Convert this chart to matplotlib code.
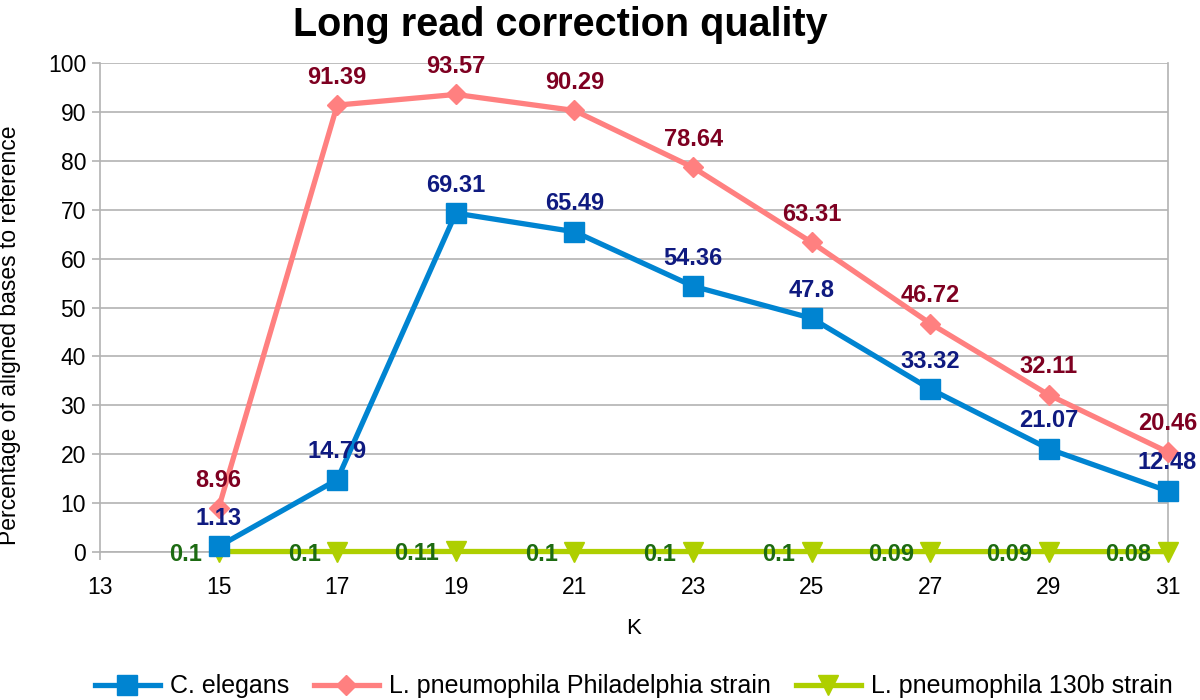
import numpy as np
import matplotlib.pyplot as plt

k = [15, 17, 19, 21, 23, 25, 27, 29, 31]
elegans = [1.13, 14.79, 69.31, 65.49, 54.36, 47.8, 33.32, 21.07, 12.48]
phila = [8.96, 91.39, 93.57, 90.29, 78.64, 63.31, 46.72, 32.11, 20.46]
strain130b = [0.1, 0.1, 0.11, 0.1, 0.1, 0.1, 0.09, 0.09, 0.08]

plt.rcParams['font.family'] = ['Liberation Sans', 'DejaVu Sans']

fig = plt.figure(figsize=(12, 7), dpi=100)
ax = fig.add_axes([0.0833, 0.2114, 0.8897, 0.6986])

ax.plot(k, strain130b, 'v-', color='#aecf00', lw=3.8, markersize=15, label='L. pneumophila 130b strain',
        zorder=3, clip_on=False)
ax.plot(k, phila, 'D-', color='#ff8080', lw=3.8, markersize=10, label='L. pneumophila Philadelphia strain',
        zorder=4, clip_on=False)
ax.plot(k, elegans, 's-', color='#0084d1', lw=3.8, markersize=15, label='C. elegans',
        zorder=5, clip_on=False)

for x, y in zip(k, phila):
    ax.annotate(str(y), (x, y), xytext=(0, 15.5), textcoords='offset points', ha='center', va='baseline',
                color='#7e0021', fontsize=17, fontweight='bold', zorder=6, annotation_clip=False)
for x, y in zip(k, elegans):
    ax.annotate(str(y), (x, y), xytext=(0, 15.5), textcoords='offset points', ha='center', va='baseline',
                color='#0f1a80', fontsize=17, fontweight='bold', zorder=6, annotation_clip=False)
for x, y in zip(k, strain130b):
    ax.annotate(str(y), (x, y), xytext=(-12, 0), textcoords='offset points', ha='right', va='center_baseline',
                color='#1d6b12', fontsize=17, fontweight='bold', zorder=6, annotation_clip=False)

ax.set_xlim(13, 31)
ax.set_ylim(0, 100)
ax.set_xticks(np.arange(13, 32, 2))
ax.set_yticks(np.arange(0, 101, 10))
ax.tick_params(axis='both', labelsize=16.5, length=6, width=1.2, color='#b3b3b3', pad=4)
ax.tick_params(axis='x', pad=11)
ax.yaxis.grid(True, color='#b3b3b3', lw=1.2)
ax.set_axisbelow(True)
ax.spines['top'].set_visible(False)
for side in ['left', 'right', 'bottom']:
    ax.spines[side].set_color('#b3b3b3')
    ax.spines[side].set_linewidth(1.2)

ax.set_xlabel('K', fontsize=16, labelpad=14)
ax.set_ylabel('Percentage of aligned bases to reference', fontsize=16.5)
ax.yaxis.set_label_coords(-0.074, 0.444)
fig.text(0.467, 0.965, 'Long read correction quality', fontsize=28.5, fontweight='bold',
         ha='center', va='center')

handles, labels = ax.get_legend_handles_labels()
order = [2, 1, 0]
fig.legend([handles[i] for i in order], [labels[i] for i in order], loc='lower center',
           ncol=3, frameon=False, fontsize=18, bbox_to_anchor=(0.528, -0.03),
           handlelength=2.6, columnspacing=1.0, handletextpad=0.4)

fig.savefig('out.png', dpi=100)
